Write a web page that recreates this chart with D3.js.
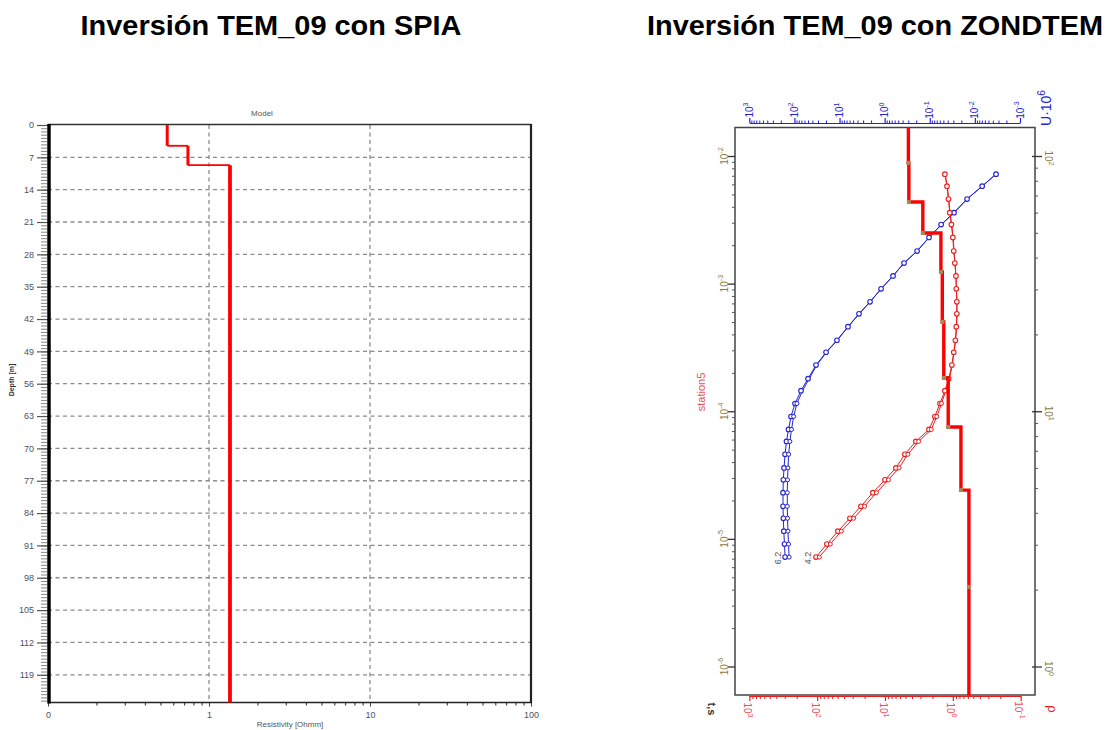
<!DOCTYPE html>
<html><head><meta charset="utf-8">
<script src="https://cdn.jsdelivr.net/npm/d3@7"></script>
<style>body{margin:0;background:#fff}svg{display:block}text{font-family:"Liberation Sans",Arial,sans-serif}</style>
</head><body><script>
// ---------------- data ----------------
const titles = ["Inversión TEM_09 con SPIA", "Inversión TEM_09 con ZONDTEM"];

// Left panel (SPIA)
const spiaDepthTicks = [0,7,14,21,28,35,42,49,56,63,70,77,84,91,98,105,112,119];
const spiaResTicks = [0.1, 1, 10, 100];
const spiaResTickLabels = ["0", "1", "10", "100"];
const spiaLayerRes = [0.55, 0.74, 1.35];
const spiaLayerTop = [0, 4.5, 8.7];
const spiaLayerBottom = [4.5, 8.7, 125];

// Right panel (ZONDTEM)
const times = [7.2e-3,5.8e-3,4.6e-3,3.6e-3,2.9e-3,2.3e-3,1.8e-3,1.45e-3,1.15e-3,9.1e-4,7.2e-4,5.8e-4,4.6e-4,3.6e-4,2.9e-4,2.3e-4,1.8e-4,1.45e-4,1.15e-4,9.1e-5,7.2e-5,5.8e-5,4.6e-5,3.6e-5,2.9e-5,2.3e-5,1.8e-5,1.45e-5,1.15e-5,9.1e-6,7.2e-6];
const uObs = [3.4e-3,6.9e-3,1.49e-2,2.9e-2,5.6e-2,0.104,0.191,0.372,0.652,1.20,2.11,3.70,6.5,11.4,19.9,33.2,49.9,71.4,97,119,135,150,161,170,176,179,179,176,172,166,161];
const uCalc = [3.4e-3,6.9e-3,1.48e-2,2.9e-2,5.5e-2,0.103,0.19,0.37,0.65,1.19,2.1,3.65,6.4,11.2,19.5,32,47,66,88,104,116,126,134,139,142,144,144,142,139,135,131];
const rhoObs = [1.31,1.22,1.16,1.11,1.05,1.00,0.97,0.935,0.90,0.89,0.873,0.873,0.89,0.918,0.97,1.035,1.15,1.31,1.55,1.84,2.25,3.51,5.1,6.9,10.0,15.1,22.6,32.9,49.4,71.8,104];
const rhoCalc = [1.30,1.21,1.15,1.10,1.04,0.99,0.96,0.93,0.90,0.885,0.87,0.87,0.88,0.91,0.96,1.02,1.12,1.27,1.47,1.72,2.08,3.2,4.6,6.2,8.9,13.4,20,29,44,64,93];
const modelRes = [4.52,4.45,2.77,1.50,1.43,1.36,1.17,0.76,0.58,0.58];
const modelDepth = [130,94,66,49.9,35.1,22.4,13.5,8.67,4.91,2.05,0.77];
const uTicks = [1e3,1e2,1e1,1,1e-1,1e-2,1e-3];
const uTickExp = ["3","2","1","0","-1","-2","-3"];
const rhoTicks = [1e3,1e2,1e1,1,1e-1];
const rhoTickExp = ["3","2","1","0","-1"];
const timeTicks = [1e-2,1e-3,1e-4,1e-5,1e-6];
const timeTickExp = ["-2","-3","-4","-5","-6"];
const depthTicks = [1e2,1e1,1];
const depthTickExp = ["2","1","0"];
const curveLabels = ["6.2","4.2"];

// ---------------- helpers ----------------
function minorLog(dom) {
  const lo = Math.min(dom[0], dom[1]), hi = Math.max(dom[0], dom[1]);
  const out = [];
  for (let k = Math.floor(Math.log10(lo)) - 1; k <= Math.ceil(Math.log10(hi)); k++)
    for (let m = 2; m <= 9; m++) { const v = m * Math.pow(10, k); if (v > lo && v < hi) out.push(v); }
  return out;
}
function powLabel(g, x, y, base, exp, angle, color, size) {
  const t = g.append("text").attr("transform", `translate(${x},${y}) rotate(${angle})`)
    .attr("text-anchor", "middle").attr("fill", color).attr("font-size", size).attr("dy", "0.35em");
  t.append("tspan").text(base);
  t.append("tspan").attr("dy", -size * 0.45).attr("font-size", size * 0.72).text(exp);
  return t;
}

const svg = d3.select("body").append("svg").attr("width", 1109).attr("height", 730);
svg.append("rect").attr("width", 1109).attr("height", 730).attr("fill", "#fff");

// titles
svg.append("text").attr("x", 271).attr("y", 35).attr("text-anchor", "middle").attr("font-size", 28)
  .attr("font-weight", "bold").attr("textLength", 381).attr("lengthAdjust", "spacingAndGlyphs").text(titles[0]);
svg.append("text").attr("x", 875).attr("y", 35).attr("text-anchor", "middle").attr("font-size", 28)
  .attr("font-weight", "bold").attr("textLength", 456).attr("lengthAdjust", "spacingAndGlyphs").text(titles[1]);

// ================= LEFT PANEL =================
const L = {x0: 48, x1: 531, y0: 125, y1: 702.5};
const xL = d3.scaleLog().domain([0.1, 100]).range([L.x0, L.x1]);
const yL = d3.scaleLinear().domain([0, 125]).range([L.y0, L.y1]);
const gL = svg.append("g");

// grid
gL.selectAll("line.hg").data(spiaDepthTicks.filter(d => d > 0)).join("line").attr("class", "hg")
  .attr("x1", L.x0).attr("x2", L.x1).attr("y1", d => yL(d)).attr("y2", d => yL(d))
  .attr("stroke", "#8c8c8c").attr("stroke-width", 1.3).attr("stroke-dasharray", "4,3.5");
gL.selectAll("line.vg").data(spiaResTicks.slice(1, 3)).join("line").attr("class", "vg")
  .attr("x1", d => xL(d)).attr("x2", d => xL(d)).attr("y1", L.y0).attr("y2", L.y1)
  .attr("stroke", "#8c8c8c").attr("stroke-width", 1.3).attr("stroke-dasharray", "4,3.5");

// left axis: minor + major ticks
const yMinor = d3.axisLeft(yL).tickValues(d3.range(0, 125.01, 0.7)).tickSize(6).tickFormat("");
const gym = gL.append("g").attr("transform", `translate(${L.x0 - 1},0)`).call(yMinor);
gym.select(".domain").remove();
gym.selectAll("line").attr("stroke", "#666").attr("stroke-width", 0.8);
const yMajor = d3.axisLeft(yL).tickValues(spiaDepthTicks).tickSize(11).tickPadding(3);
const gyM = gL.append("g").attr("transform", `translate(${L.x0},0)`).call(yMajor);
gyM.select(".domain").remove();
gyM.selectAll("line").attr("stroke", "#555").attr("stroke-width", 1.2);
gyM.selectAll("text").attr("font-size", 9).attr("fill", "#4a5266").attr("font-family", "Liberation Sans, Arial");

// bottom axis
const xMinorL = d3.axisBottom(xL).tickValues(minorLog([0.1, 100])).tickSize(3).tickFormat("");
const gxm = gL.append("g").attr("transform", `translate(0,${L.y1})`).call(xMinorL);
gxm.select(".domain").remove();
gxm.selectAll("line").attr("stroke", "#444").attr("stroke-width", 1.2);
const xMajorL = d3.axisBottom(xL).tickValues(spiaResTicks).tickSize(4).tickPadding(5)
  .tickFormat((d, i) => spiaResTickLabels[i]);
const gxM = gL.append("g").attr("transform", `translate(0,${L.y1})`).call(xMajorL);
gxM.select(".domain").remove();
gxM.selectAll("line").attr("stroke", "#444");
gxM.selectAll("text").attr("font-size", 9).attr("fill", "#4a5266").attr("font-family", "Liberation Sans, Arial");

// frame
gL.append("line").attr("x1", L.x0).attr("x2", L.x1).attr("y1", L.y0 - 0.5).attr("y2", L.y0 - 0.5).attr("stroke", "#333").attr("stroke-width", 1.6);
gL.append("line").attr("x1", L.x0).attr("x2", L.x1 + 1).attr("y1", L.y1).attr("y2", L.y1).attr("stroke", "#222").attr("stroke-width", 1.6);
gL.append("line").attr("x1", L.x1).attr("x2", L.x1).attr("y1", L.y0 - 1).attr("y2", L.y1).attr("stroke", "#222").attr("stroke-width", 2.2);
gL.append("line").attr("x1", L.x0 + 1).attr("x2", L.x0 + 1).attr("y1", L.y0 - 1).attr("y2", L.y1 + 1).attr("stroke", "#000").attr("stroke-width", 3.5);

// model
gL.selectAll("line.mv").data(spiaLayerRes).join("line").attr("class", "mv")
  .attr("x1", d => xL(d)).attr("x2", d => xL(d))
  .attr("y1", (d, i) => yL(spiaLayerTop[i])).attr("y2", (d, i) => yL(spiaLayerBottom[i]))
  .attr("stroke", "#ff0000").attr("stroke-width", (d, i) => i < 2 ? 3 : 3.8);
gL.selectAll("line.mh").data(spiaLayerRes.slice(1)).join("line").attr("class", "mh")
  .attr("x1", (d, i) => xL(spiaLayerRes[i])).attr("x2", d => xL(d))
  .attr("y1", (d, i) => yL(spiaLayerTop[i + 1])).attr("y2", (d, i) => yL(spiaLayerTop[i + 1]))
  .attr("stroke", "#ff0000").attr("stroke-width", 1.8);

// labels
gL.append("text").attr("x", 262).attr("y", 116).attr("text-anchor", "middle").attr("font-size", 8).attr("fill", "#555").text("Model");
gL.append("text").attr("x", 290).attr("y", 727).attr("text-anchor", "middle").attr("font-size", 8).attr("fill", "#555").text("Resistivity [Ohmm]");
gL.append("text").attr("transform", "translate(14,380) rotate(-90)").attr("text-anchor", "middle")
  .attr("font-size", 7).attr("font-weight", "bold").attr("fill", "#333").text("Depth [m]");

// ================= RIGHT PANEL =================
const R = {x0: 735, x1: 1035, y0: 127.5, y1: 695};
const xU = d3.scaleLog().domain([1e3, 1e-3]).range([749.3, 1020]);
const xR = d3.scaleLog().domain([1e3, 1e-1]).range([749.3, 1020.7]);
const yT = d3.scaleLog().domain([1e-2, 1e-6]).range([156, 666.5]);
const yD = d3.scaleLog().domain([1e2, 1]).range([156, 666.5]);
const gR = svg.append("g");
const blue = "#2323d6", red = "#ee1c1c", olive = "#8a7a45";

gR.append("rect").attr("x", R.x0).attr("y", R.y0).attr("width", R.x1 - R.x0).attr("height", R.y1 - R.y0)
  .attr("fill", "none").attr("stroke", "#444").attr("stroke-width", 1.5);

// top U axis
const uAxisY = 123;
const gu1 = gR.append("g").attr("transform", `translate(0,${uAxisY})`)
  .call(d3.axisTop(xU).tickValues(minorLog([1e-3, 1e3])).tickSize(2.5).tickSizeOuter(0).tickFormat(""));
gu1.selectAll("line").attr("stroke", blue);
gu1.select(".domain").attr("stroke", blue);
const gu2 = gR.append("g").attr("transform", `translate(0,${uAxisY})`)
  .call(d3.axisTop(xU).tickValues(uTicks).tickSize(5).tickSizeOuter(0).tickFormat(""));
gu2.select(".domain").remove();
gu2.selectAll("line").attr("stroke", blue).attr("stroke-width", 1.2);
uTicks.forEach((v, i) => powLabel(gR, xU(v), 110, "10", uTickExp[i], -90, blue, 10));
powLabel(gR, 1046, 108, "U·10", "6", -90, blue, 14);

// bottom rho axis
const rAxisY = 696;
const gr1 = gR.append("g").attr("transform", `translate(0,${rAxisY})`)
  .call(d3.axisBottom(xR).tickValues(minorLog([1e-1, 1e3])).tickSize(3).tickSizeOuter(0).tickFormat(""));
gr1.selectAll("line").attr("stroke", red);
gr1.select(".domain").attr("stroke", red).attr("stroke-width", 1.2);
const gr2 = gR.append("g").attr("transform", `translate(0,${rAxisY})`)
  .call(d3.axisBottom(xR).tickValues(rhoTicks).tickSize(5).tickSizeOuter(0).tickFormat(""));
gr2.select(".domain").remove();
gr2.selectAll("line").attr("stroke", red).attr("stroke-width", 1.2);
rhoTicks.forEach((v, i) => powLabel(gR, xR(v) - 2, 710, "10", rhoTickExp[i], 90, "#e8505a", 10));
gR.append("text").attr("transform", "translate(1053,709) rotate(90)").attr("text-anchor", "middle").attr("dy", "0.35em")
  .attr("font-size", 13).attr("fill", red).text("ρ");
gR.append("text").attr("transform", "translate(712,709) rotate(90)").attr("text-anchor", "middle").attr("dy", "0.35em")
  .attr("font-size", 11).attr("font-weight", "bold").attr("fill", "#333").text("t,s");

// left time axis
const gt1 = gR.append("g").attr("transform", `translate(${R.x0},0)`)
  .call(d3.axisLeft(yT).tickValues(minorLog([1e-6, 1e-2]).concat([1.1e-6].slice(0, 0))).tickSize(3).tickFormat(""));
gt1.select(".domain").remove();
gt1.selectAll("line").attr("stroke", "#555");
const gt2 = gR.append("g").attr("transform", `translate(${R.x0},0)`)
  .call(d3.axisLeft(yT).tickValues(timeTicks).tickSize(7).tickFormat(""));
gt2.select(".domain").remove();
gt2.selectAll("line").attr("stroke", "#333").attr("stroke-width", 1.3);
timeTicks.forEach((v, i) => powLabel(gR, 724, yT(v), "10", timeTickExp[i], -90, olive, 10));
gR.append("text").attr("transform", "translate(701,392) rotate(-90)").attr("text-anchor", "middle").attr("dy", "0.35em")
  .attr("font-size", 11).attr("fill", "#e8505a").text("station5");

// right depth axis
const gd1 = gR.append("g").attr("transform", `translate(${R.x1},0)`)
  .call(d3.axisRight(yD).tickValues(minorLog([1, 1e2])).tickSize(3).tickFormat(""));
gd1.select(".domain").remove();
gd1.selectAll("line").attr("stroke", "#555");
const gd2 = gR.append("g").attr("transform", `translate(${R.x1 - 3},0)`)
  .call(d3.axisRight(yD).tickValues(depthTicks).tickSize(10).tickFormat(""));
gd2.select(".domain").remove();
gd2.selectAll("line").attr("stroke", "#333").attr("stroke-width", 1.3);
depthTicks.forEach((v, i) => powLabel(gR, 1048, yD(v) + 2, "10", depthTickExp[i], 90, olive, 10));

// curves
const ptsU = times.map((t, i) => ({t, obs: uObs[i], calc: uCalc[i]}));
const ptsR = times.map((t, i) => ({t, obs: rhoObs[i], calc: rhoCalc[i]}));
const lineUo = d3.line().x(d => xU(d.obs)).y(d => yT(d.t));
const lineUc = d3.line().x(d => xU(d.calc)).y(d => yT(d.t));
const lineRo = d3.line().x(d => xR(d.obs)).y(d => yT(d.t));
const lineRc = d3.line().x(d => xR(d.calc)).y(d => yT(d.t));

gR.append("path").datum(ptsU).attr("d", lineUc).attr("fill", "none").attr("stroke", blue).attr("stroke-width", 1);
gR.append("path").datum(ptsU).attr("d", lineUo).attr("fill", "none").attr("stroke", blue).attr("stroke-width", 1);
gR.selectAll("circle.uo").data(ptsU).join("circle").attr("class", "uo")
  .attr("cx", d => xU(d.obs)).attr("cy", d => yT(d.t)).attr("r", 2.3)
  .attr("fill", "#fff").attr("stroke", blue).attr("stroke-width", 1.1);
gR.selectAll("circle.uc").data(ptsU.filter((d, i) => i > 17)).join("circle").attr("class", "uc")
  .attr("cx", d => xU(d.calc)).attr("cy", d => yT(d.t)).attr("r", 2)
  .attr("fill", "#fff").attr("stroke", blue).attr("stroke-width", 1);

gR.append("path").datum(ptsR).attr("d", lineRc).attr("fill", "none").attr("stroke", red).attr("stroke-width", 1);
gR.append("path").datum(ptsR).attr("d", lineRo).attr("fill", "none").attr("stroke", red).attr("stroke-width", 1);
gR.selectAll("circle.ro").data(ptsR).join("circle").attr("class", "ro")
  .attr("cx", d => xR(d.obs)).attr("cy", d => yT(d.t)).attr("r", 2.3)
  .attr("fill", "#fff").attr("stroke", red).attr("stroke-width", 1.1);
gR.selectAll("circle.rc").data(ptsR.filter((d, i) => i > 17)).join("circle").attr("class", "rc")
  .attr("cx", d => xR(d.calc)).attr("cy", d => yT(d.t)).attr("r", 2)
  .attr("fill", "#fff").attr("stroke", red).attr("stroke-width", 1);

// curve end labels
const last = times.length - 1;
gR.append("text").attr("transform", `translate(${xU(uObs[last]) - 7},${yT(times[last]) + 1}) rotate(-90)`)
  .attr("text-anchor", "middle").attr("dy", "0.35em").attr("font-size", 9).attr("fill", "#555").text(curveLabels[0]);
gR.append("text").attr("transform", `translate(${xR(rhoObs[last]) - 8},${yT(times[last]) + 1}) rotate(-90)`)
  .attr("text-anchor", "middle").attr("dy", "0.35em").attr("font-size", 9).attr("fill", "#555").text(curveLabels[1]);

// model step line
const modelPts = [];
modelRes.forEach((r, i) => { modelPts.push([xR(r), yD(modelDepth[i])]); modelPts.push([xR(r), yD(modelDepth[i + 1])]); });
gR.append("path").attr("d", d3.line()(modelPts)).attr("fill", "none").attr("stroke", "#ff0000")
  .attr("stroke-width", 3.4).attr("stroke-linejoin", "miter");
gR.selectAll("rect.mk").data(modelRes.slice(0, -1)).join("rect").attr("class", "mk")
  .attr("x", d => xR(d) - 2).attr("y", (d, i) => yD(modelDepth[i + 1]) - 2).attr("width", 4).attr("height", 4)
  .attr("fill", "#a88a5a");
</script></body></html>
